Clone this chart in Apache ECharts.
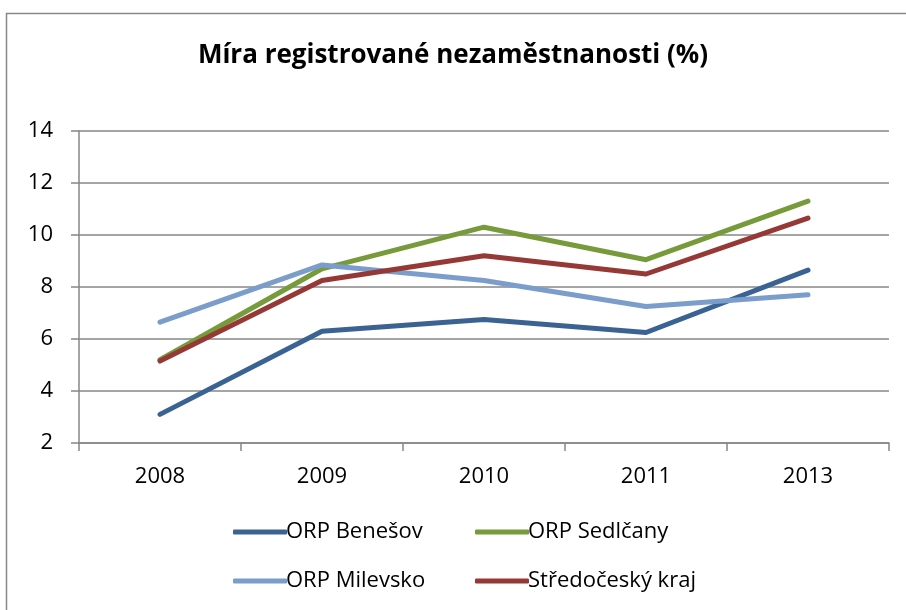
<!DOCTYPE html>
<html>
<head>
<meta charset="utf-8">
<script src="https://cdn.jsdelivr.net/npm/echarts@6/dist/echarts.min.js"></script>
<style>
    html, body { margin: 0; padding: 0; background: #fff; }
    #chart { width: 906px; height: 610px; }
</style>
</head>
<body>
<div id="chart"></div>
<script>
// data
const years = ['2008', '2009', '2010', '2011', '2013']
const benesov = [3.1, 6.3, 6.75, 6.25, 8.65]
const sedlcany = [5.2, 8.7, 10.3, 9.05, 11.3]
const milevsko = [6.65, 8.85, 8.25, 7.25, 7.7]
const stredocesky = [5.15, 8.25, 9.2, 8.5, 10.65]

const FONT = '"Open Sans", "Noto Sans", sans-serif'
const GRID_COLOR = '#878787'

const seriesList = [
    { name: 'ORP Benešov', data: benesov, color: '#3A6394' },
    { name: 'ORP Sedlčany', data: sedlcany, color: '#779B3B' },
    { name: 'ORP Milevsko', data: milevsko, color: '#7B9DCB' },
    { name: 'Středočeský kraj', data: stredocesky, color: '#963836' }
]

// one legend per item, placed like the original 2x2 layout
const legendPos = [
    { left: 228, top: 516 },
    { left: 470, top: 516 },
    { left: 228, top: 565 },
    { left: 470, top: 565 }
]

const chart = echarts.init(document.getElementById('chart'), null, { renderer: 'canvas' })

const options = {
    backgroundColor: '#fff',
    animation: false,
    title: {
        text: 'Míra registrované nezaměstnanosti (%)',
        left: 'center',
        top: 38,
        textStyle: { fontFamily: FONT, fontSize: 26, fontWeight: 'bold', color: '#000' }
    },
    graphic: [{
        // outer chart border, only left and top are on the picture
        type: 'rect',
        shape: { x: 6.5, y: 13.5, width: 1000, height: 1000 },
        style: { fill: 'none', stroke: '#888', lineWidth: 1.5 },
        silent: true
    }],
    legend: seriesList.map((s, i) => ({
        data: [s.name],
        left: legendPos[i].left,
        top: legendPos[i].top,
        icon: 'roundRect',
        itemWidth: 54,
        itemHeight: 5,
        textStyle: { fontFamily: FONT, fontSize: 22, color: '#000', padding: [0, 0, 0, -6] }
    })),
    grid: { left: 79, right: 17, top: 131, bottom: 167 },
    xAxis: {
        type: 'category',
        data: years,
        boundaryGap: true,
        axisLine: { show: true, lineStyle: { color: GRID_COLOR, width: 1.5 } },
        axisTick: { show: true, inside: false, length: 8, lineStyle: { color: GRID_COLOR, width: 1.5 } },
        axisLabel: { fontFamily: FONT, fontSize: 22, color: '#000', margin: 23 }
    },
    yAxis: {
        type: 'value',
        min: 2,
        max: 14,
        interval: 2,
        axisLine: { show: true, lineStyle: { color: GRID_COLOR, width: 1.5 } },
        axisTick: { show: true, length: 8, lineStyle: { color: GRID_COLOR, width: 1.5 } },
        splitLine: { show: true, lineStyle: { color: GRID_COLOR, width: 1.5 } },
        axisLabel: { fontFamily: FONT, fontSize: 22, color: '#000', margin: 26 }
    },
    series: seriesList.map(s => ({
        name: s.name,
        type: 'line',
        data: s.data,
        showSymbol: false,
        symbol: 'none',
        lineStyle: { color: s.color, width: 5, cap: 'round', join: 'round' },
        itemStyle: { color: s.color }
    }))
}

chart.setOption(options)
</script>
</body>
</html>
